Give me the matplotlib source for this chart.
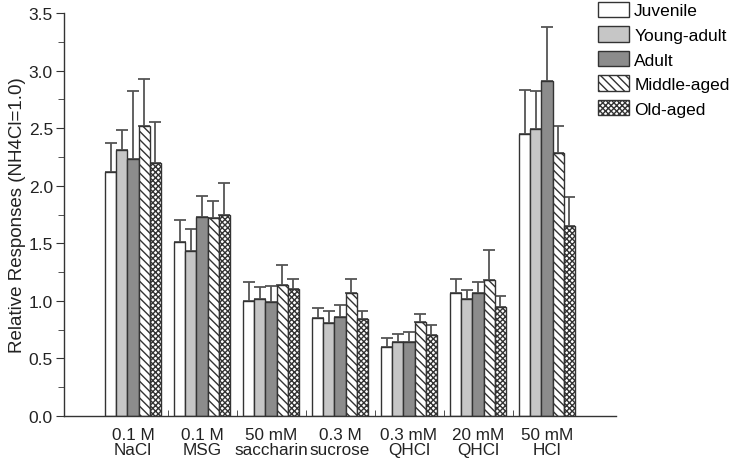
import numpy as np
import matplotlib.pyplot as plt
from matplotlib.patches import Patch

plt.rcParams["font.family"] = ["Liberation Sans", "DejaVu Sans"]
plt.rcParams["hatch.linewidth"] = 1.0
plt.rcParams["hatch.color"] = "#222222"

# %% data
categories = ["0.1 M\nNaCl", "0.1 M\nMSG", "50 mM\nsaccharin", "0.3 M\nsucrose",
              "0.3 mM\nQHCl", "20 mM\nQHCl", "50 mM\nHCl"]
groups = ["Juvenile", "Young-adult", "Adult", "Middle-aged", "Old-aged"]

juvenile = [2.12, 1.51, 1.00, 0.85, 0.60, 1.07, 2.45]
young_adult = [2.31, 1.43, 1.02, 0.81, 0.64, 1.02, 2.49]
adult = [2.23, 1.73, 0.99, 0.86, 0.64, 1.07, 2.91]
middle_aged = [2.52, 1.72, 1.14, 1.07, 0.82, 1.18, 2.28]
old_aged = [2.20, 1.75, 1.10, 0.84, 0.70, 0.95, 1.65]

juvenile_err = [0.25, 0.19, 0.16, 0.09, 0.08, 0.12, 0.38]
young_adult_err = [0.17, 0.19, 0.10, 0.10, 0.07, 0.07, 0.33]
adult_err = [0.59, 0.18, 0.14, 0.10, 0.09, 0.09, 0.47]
middle_aged_err = [0.41, 0.15, 0.17, 0.12, 0.07, 0.26, 0.24]
old_aged_err = [0.35, 0.27, 0.09, 0.07, 0.09, 0.09, 0.25]

values = [juvenile, young_adult, adult, middle_aged, old_aged]
errors = [juvenile_err, young_adult_err, adult_err, middle_aged_err, old_aged_err]

faces = ["white", "#c6c6c6", "#8c8c8c", "white", "white"]
hatches = [None, None, None, "\\\\\\\\", "xxxxxx"]

# %% plotting
fig = plt.figure(figsize=(7.3, 4.6), dpi=100)
ax = fig.add_axes([64 / 730, 1 - 417 / 460, 552 / 730, 403 / 460])

x = np.arange(len(categories))
width = 0.16
edge = "#333333"
for i in range(len(groups)):
    pos = x + (i - 2) * width
    ax.bar(pos, values[i], width, color=faces[i], edgecolor=edge,
           linewidth=1.0, hatch=hatches[i], zorder=2)
    ax.errorbar(pos, values[i], yerr=[np.zeros(len(x)), errors[i]],
                fmt="none", ecolor="#555555", elinewidth=1.3, capsize=4,
                capthick=1.3, zorder=1)

ax.set_xlim(-1, 7)
ax.set_ylim(0, 3.5)
ax.set_xticks(x)
ax.set_xticklabels(categories, fontsize=12.3, color="#222222", linespacing=0.95)
ax.set_xticks(np.arange(0.5, 6, 1), minor=True)
ax.tick_params(axis="x", which="major", length=0, pad=8)
ax.tick_params(axis="x", which="minor", direction="in", length=4, color=edge)

ax.set_yticks(np.arange(0, 3.51, 0.5))
ax.set_yticklabels(["%.1f" % v for v in np.arange(0, 3.51, 0.5)],
                   fontsize=12.5, color="#222222")
ax.set_yticks(np.arange(0.25, 3.5, 0.5), minor=True)
ax.tick_params(axis="y", which="major", length=6, color=edge, pad=2)
ax.tick_params(axis="y", which="minor", length=4, color=edge)
ax.set_ylabel("Relative Responses (NH4Cl=1.0)", fontsize=13.5, color="#222222",
              labelpad=2)

for s in ["top", "right"]:
    ax.spines[s].set_visible(False)
for s in ["left", "bottom"]:
    ax.spines[s].set_color(edge)
    ax.spines[s].set_linewidth(1.0)

handles = [Patch(facecolor=faces[i], edgecolor=edge, hatch=hatches[i],
                 linewidth=1.0) for i in range(len(groups))]
fig.legend(handles, groups, loc="upper left", bbox_to_anchor=(596 / 730, 1 - 1 / 460),
           frameon=False, fontsize=12.5, handlelength=1.8, handleheight=1.0,
           labelspacing=0.45, handletextpad=0.3, borderaxespad=0, borderpad=0.1)

fig.savefig("out.png", dpi=100)
